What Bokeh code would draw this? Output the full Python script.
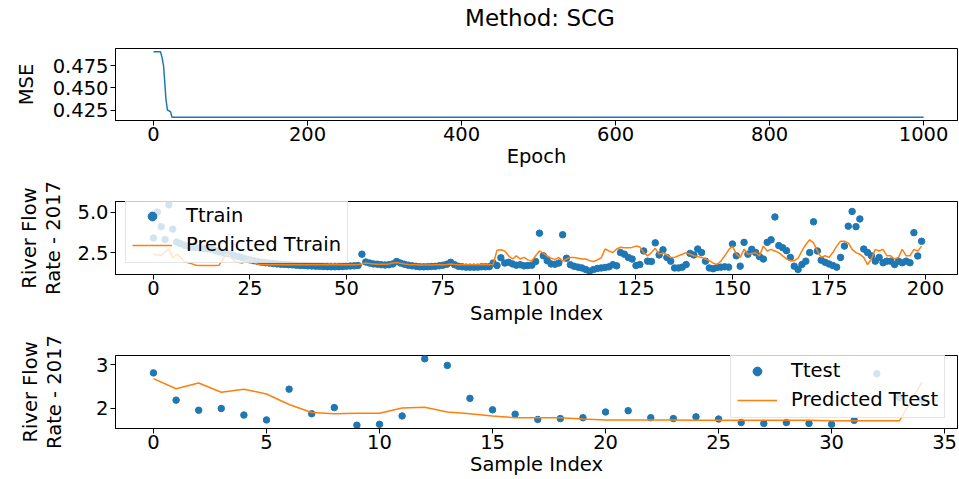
from bokeh.plotting import figure
from bokeh.layouts import column
from bokeh.models import Range1d, FixedTicker, Legend, LegendItem, NumeralTickFormatter, Div
from bokeh.embed import file_html
from bokeh.resources import INLINE

# ---------------- data ----------------
epochs = [0, 9, 11, 13, 15, 16, 18, 22, 24, 1000]
mse = [0.4906, 0.4906, 0.4843, 0.4751, 0.4511, 0.4382, 0.4253, 0.4235, 0.4172, 0.4172]

t_train = [
    3.4, 5.0, 4.1, 3.3, 5.45, 3.95, 3.15, 3.05, 2.95, 2.9,
    2.85, 2.8, 2.78, 2.75, 2.72, 2.7, 2.62, 2.55, 2.5, 2.45,
    2.4, 2.3, 2.25, 2.18, 2.1, 2.05, 2.0, 1.95, 1.9, 1.87,
    1.85, 1.82, 1.8, 1.78, 1.77, 1.75, 1.74, 1.72, 1.7, 1.7,
    1.68, 1.67, 1.66, 1.65, 1.64, 1.63, 1.62, 1.62, 1.63, 1.64,
    1.66, 1.67, 1.68, 1.7, 2.4, 1.92, 1.85, 1.8, 1.78, 1.75,
    1.73, 1.75, 1.8, 1.95, 1.85, 1.78, 1.72, 1.68, 1.65, 1.62,
    1.62, 1.63, 1.64, 1.65, 1.68, 1.72, 1.78, 1.9, 1.75, 1.65,
    1.62, 1.6, 1.6, 1.6, 1.6, 1.62, 1.62, 1.63, 1.85, 1.7,
    2.18, 1.85, 1.9, 1.8, 1.72, 1.75, 1.68, 1.7, 1.72, 1.95,
    3.7, 2.3, 2.0, 1.8, 1.78, 1.85, 3.6, 2.15, 1.75, 1.65,
    1.6, 1.55, 1.45, 1.35, 1.45, 1.52, 1.55, 1.58, 1.62, 1.75,
    1.68, 2.5, 2.4, 2.2, 2.1, 1.7, 1.76, 2.6, 1.97, 1.95,
    3.1, 2.35, 2.67, 2.2, 1.97, 1.55, 1.55, 1.6, 1.76, 2.45,
    2.35, 2.72, 2.5, 1.97, 1.55, 1.5, 1.58, 1.6, 1.62, 1.6,
    3.03, 2.3, 1.66, 3.13, 2.4, 2.7, 2.5, 2.25, 2.1, 3.13,
    3.29, 4.7, 2.93, 2.8, 2.62, 2.2, 1.66, 1.45, 1.76, 1.97,
    2.5, 4.4, 2.6, 2.03, 1.9, 1.8, 1.7, 1.6, 2.2, 2.9,
    4.13, 5.04, 4.1, 4.58, 2.72, 2.5, 2.3, 1.97, 2.2, 1.87,
    1.97, 1.97, 1.76, 1.97, 1.87, 1.97, 1.87, 3.73, 2.29, 3.2,
]
pred_train = [
    2.4, 2.35, 2.3, 2.55, 2.72, 2.18, 2.4, 2.2, 1.95, 1.87,
    1.8, 1.72, 1.7, 1.7, 1.7, 1.7, 1.7, 1.72, 2.1, 2.45,
    2.2, 1.97, 1.9, 1.85, 2.0, 2.1, 1.9, 1.78, 1.75, 1.75,
    1.75, 1.75, 1.75, 1.75, 1.75, 1.74, 1.74, 1.74, 1.74, 1.74,
    1.74, 1.74, 1.74, 1.74, 1.74, 1.74, 1.74, 1.74, 1.74, 1.74,
    1.74, 1.74, 1.74, 1.76, 1.8, 1.85, 1.82, 1.8, 1.78, 1.78,
    1.78, 1.8, 1.85, 1.88, 1.84, 1.8, 1.77, 1.75, 1.74, 1.73,
    1.73, 1.73, 1.73, 1.74, 1.74, 1.75, 1.76, 1.8, 1.77, 1.75,
    1.75, 1.75, 1.75, 1.75, 1.75, 1.75, 1.75, 1.75, 1.76, 2.65,
    2.67, 2.6, 2.3, 2.1, 2.3, 2.1, 2.2, 2.05, 1.97, 2.3,
    2.6, 2.45, 2.3, 2.15, 2.08, 2.2, 1.97, 2.1, 2.2, 2.2,
    2.15, 2.1, 2.1, 2.0, 1.95, 2.05, 2.18, 2.72, 2.6, 2.5,
    2.72, 2.83, 2.8, 2.8, 2.82, 2.9, 2.85, 2.5, 2.3, 2.5,
    2.76, 2.4, 2.5, 2.35, 2.2, 2.2, 2.3, 2.4, 2.5, 2.4,
    2.3, 2.25, 2.2, 2.1, 2.0, 1.85, 1.76, 1.97, 2.3, 2.67,
    2.9, 2.4, 2.2, 2.7, 2.4, 2.45, 2.5, 2.3, 2.9, 2.6,
    2.7, 2.6, 2.5, 2.3, 2.1, 2.0, 2.0, 2.15, 2.6, 3.0,
    3.29, 3.1, 2.6, 2.2, 2.3, 2.2, 2.5, 2.9, 3.2, 3.2,
    3.1, 2.7, 2.5, 2.4, 2.2, 1.76, 2.1, 2.7, 2.6, 2.7,
    2.3, 2.3, 2.1, 2.2, 2.7, 2.3, 2.3, 2.7, 2.6, 2.9,
]
t_test = [
    2.81, 2.19, 1.96, 2.0, 1.85, 1.74, 2.44, 1.88, 2.02, 1.62,
    1.64, 1.83, 3.13, 2.98, 2.23, 1.97, 1.87, 1.75, 1.77, 1.79,
    1.92, 1.95, 1.79, 1.77, 1.81, 1.76, 1.68, 1.66, 1.68, 1.66,
    1.64, 1.73, 2.79, 2.25, 2.2,
]
pred_test = [
    2.68, 2.45, 2.58, 2.37, 2.44, 2.33, 2.09, 1.91, 1.88, 1.89,
    1.89, 2.01, 2.03, 1.92, 1.88, 1.83, 1.79, 1.79, 1.79, 1.76,
    1.74, 1.74, 1.74, 1.74, 1.73, 1.73, 1.73, 1.73, 1.73, 1.73,
    1.72, 1.72, 1.72, 1.72, 2.6,
]
train_idx = list(range(len(t_train)))
test_idx = list(range(len(t_test)))

mse_ticks = [0, 200, 400, 600, 800, 1000]
mse_yticks = [0.425, 0.450, 0.475]
train_xticks = [0, 25, 50, 75, 100, 125, 150, 175, 200]
train_yticks = [2.5, 5.0]
test_xticks = [0, 5, 10, 15, 20, 25, 30, 35]
test_yticks = [2, 3]
title_text = "Method: SCG"

BLUE = "#1f77b4"
ORANGE = "#ff7f0e"
FONT = "DejaVu Sans"
FS = "19.5px"
W = 958


def make_fig(height, xr, yr, top, bottom, ylab_standoff, xlab_standoff=1):
    p = figure(width=W, height=height, x_range=Range1d(*xr), y_range=Range1d(*yr),
               output_backend="svg", toolbar_location=None,
               min_border_left=115, min_border_right=1,
               min_border_top=top, min_border_bottom=bottom)
    p.xgrid.visible = False
    p.ygrid.visible = False
    p.outline_line_color = "black"
    p.outline_line_width = 1
    p.background_fill_color = "white"
    p.border_fill_color = "white"
    for ax in (p.xaxis[0], p.yaxis[0]):
        ax.axis_line_color = "black"
        ax.major_tick_line_color = "black"
        ax.major_tick_out = 5
        ax.major_tick_in = 0
        ax.minor_tick_line_color = None
        ax.major_label_text_font = FONT
        ax.major_label_text_font_size = FS
        ax.major_label_text_color = "black"
        ax.axis_label_text_font = FONT
        ax.axis_label_text_font_size = FS
        ax.axis_label_text_font_style = "normal"
        ax.axis_label_text_color = "black"
    p.xaxis[0].major_label_standoff = 1
    p.xaxis[0].axis_label_standoff = xlab_standoff
    p.yaxis[0].major_label_standoff = 2
    p.yaxis[0].axis_label_standoff = ylab_standoff
    p.yaxis[0].axis_label_text_line_height = 1.05
    return p


# ---------- title ----------
title_div = Div(
    text=('<div style="width:842px;margin-left:119px;text-align:center;'
          "font-family:'DejaVu Sans';font-size:23px;line-height:36px;color:black;"
          'white-space:nowrap">' + title_text + '</div>'),
    width=W, height=36, margin=(0, 0, 0, 0))

# ---------- top: MSE ----------
p1 = make_fig(140, (-49.4, 1044), (0.4135, 0.4943), 12, 56, 12)
p1.line(epochs, mse, line_color=BLUE, line_width=1.5)
p1.xaxis.ticker = FixedTicker(ticks=mse_ticks)
p1.yaxis.ticker = FixedTicker(ticks=mse_yticks)
p1.yaxis.formatter = NumeralTickFormatter(format="0.000")
p1.xaxis.axis_label = "Epoch"
p1.yaxis.axis_label = "MSE"

# ---------- middle: train ----------
p2 = make_fig(154, (-9.84, 208.3), (1.145, 5.655), 25, 56, 9, xlab_standoff=4)
r_tr = p2.scatter(train_idx, t_train, size=6.5, fill_color=BLUE, line_color=BLUE)
r_ptr = p2.line(train_idx, pred_train, line_color=ORANGE, line_width=1.5)
p2.xaxis.ticker = FixedTicker(ticks=train_xticks)
p2.yaxis.ticker = FixedTicker(ticks=train_yticks)
p2.yaxis.formatter = NumeralTickFormatter(format="0.0")
p2.xaxis.axis_label = "Sample Index"
p2.yaxis.axis_label = "River Flow\nRate - 2017"

# ---------- bottom: test ----------
p3 = make_fig(149, (-1.68, 35.57), (1.5445, 3.2055), 25, 51, 27)
r_te = p3.scatter(test_idx, t_test, size=6.5, fill_color=BLUE, line_color=BLUE)
r_pte = p3.line(test_idx, pred_test, line_color=ORANGE, line_width=1.5)
p3.xaxis.ticker = FixedTicker(ticks=test_xticks)
p3.yaxis.ticker = FixedTicker(ticks=test_yticks)
p3.yaxis.formatter = NumeralTickFormatter(format="0")
p3.xaxis.axis_label = "Sample Index"
p3.yaxis.axis_label = "River Flow\nRate - 2017"


def add_legend(p, items, loc):
    lg = Legend(items=items, location=loc)
    lg.label_text_font = FONT
    lg.label_text_font_size = FS
    lg.label_text_color = "black"
    lg.glyph_width = 40
    lg.glyph_height = 22
    lg.label_height = 22
    lg.label_standoff = 14
    lg.padding = 6
    lg.spacing = 6
    lg.margin = 0
    lg.background_fill_color = "white"
    lg.background_fill_alpha = 0.8
    lg.border_line_color = "#cccccc"
    lg.border_line_width = 1
    p.add_layout(lg)


add_legend(p2, [LegendItem(label="Ttrain", renderers=[r_tr]),
                LegendItem(label="Predicted Ttrain", renderers=[r_ptr])], (10, 11))
add_legend(p3, [LegendItem(label="Ttest", renderers=[r_te]),
                LegendItem(label="Predicted Ttest", renderers=[r_pte])], (615, 10))

layout = column(title_div, p1, p2, p3, spacing=0)
open("out.html", "w").write(file_html(layout, INLINE))
